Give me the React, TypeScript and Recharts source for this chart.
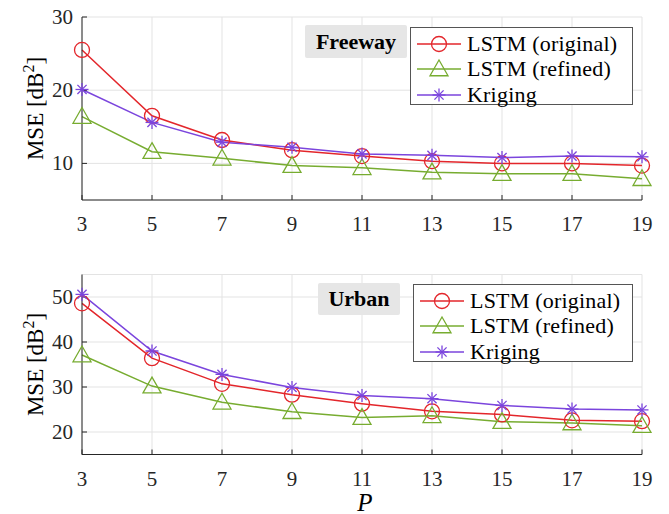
import {
  CartesianGrid,
  Legend,
  Line,
  LineChart,
  XAxis,
  YAxis,
} from "recharts";

const pValues = [3, 5, 7, 9, 11, 13, 15, 17, 19];

const freewayOriginal = [25.5, 16.5, 13.2, 11.8, 11.0, 10.3, 10.0, 10.0, 9.7];
const freewayRefined = [16.4, 11.6, 10.7, 9.7, 9.4, 8.8, 8.6, 8.6, 7.9];
const freewayKriging = [20.1, 15.6, 12.9, 12.2, 11.3, 11.1, 10.8, 11.0, 10.9];

const urbanOriginal = [48.6, 36.4, 30.7, 28.3, 26.3, 24.6, 23.9, 22.6, 22.4];
const urbanRefined = [37.1, 30.2, 26.6, 24.5, 23.2, 23.6, 22.3, 22.0, 21.4];
const urbanKriging = [50.6, 38.0, 32.8, 29.9, 28.1, 27.4, 25.9, 25.1, 24.9];

const freewayTicks = [10, 20, 30];
const urbanTicks = [20, 30, 40, 50];

const RED = "#e3262b";
const GREEN = "#77ac30";
const PURPLE = "#7b45dd";
const AXIS = "#262626";
const FONT = "Liberation Serif";

const series = [
  { key: "original", name: "LSTM (original)", color: RED, shape: "circle" },
  { key: "refined", name: "LSTM (refined)", color: GREEN, shape: "triangle" },
  { key: "kriging", name: "Kriging", color: PURPLE, shape: "asterisk" },
];

function toRows(original: number[], refined: number[], kriging: number[]) {
  return pValues.map((p, i) => ({
    p,
    original: original[i],
    refined: refined[i],
    kriging: kriging[i],
  }));
}

function Marker({ shape, cx, cy, color }: any) {
  if (shape === "circle") {
    return <circle cx={cx} cy={cy} r={7.5} fill="none" stroke={color} strokeWidth={1.3} />;
  }
  if (shape === "triangle") {
    const s = 9;
    return (
      <polygon
        points={`${cx},${cy - s} ${cx + s},${cy + s * 0.75} ${cx - s},${cy + s * 0.75}`}
        fill="none"
        stroke={color}
        strokeWidth={1.3}
      />
    );
  }
  const r = 6.5;
  const d = r * 0.707;
  return (
    <g stroke={color} strokeWidth={1.3}>
      <line x1={cx - r} y1={cy} x2={cx + r} y2={cy} />
      <line x1={cx} y1={cy - r} x2={cx} y2={cy + r} />
      <line x1={cx - d} y1={cy - d} x2={cx + d} y2={cy + d} />
      <line x1={cx - d} y1={cy + d} x2={cx + d} y2={cy - d} />
    </g>
  );
}

function XTick({ x, y, payload }: any) {
  return (
    <text x={x} y={y + 31} textAnchor="middle" style={{ fontFamily: FONT, fontSize: 21, fill: AXIS }}>
      {payload.value}
    </text>
  );
}

function YTick({ x, y, payload }: any) {
  return (
    <text x={x} y={y + 7} textAnchor="end" style={{ fontFamily: FONT, fontSize: 21, fill: AXIS }}>
      {payload.value}
    </text>
  );
}

function Panel({ title, data, domain, ticks, height, margin, xHeight, titleBox, legendBox, showP }: any) {
  const renderLegend = () => (
    <div style={{ position: "relative", fontFamily: FONT }}>
      <div
        style={{
          position: "absolute",
          left: titleBox.x,
          top: titleBox.y,
          width: titleBox.w,
          height: titleBox.h,
          background: "#e6e6e6",
          borderRadius: 2,
          fontFamily: FONT,
          fontWeight: "bold",
          fontSize: 22,
          color: "#000",
          display: "flex",
          alignItems: "center",
          justifyContent: "center",
        }}
      >
        {title}
      </div>
      <div
        style={{
          position: "absolute",
          left: legendBox.x,
          top: legendBox.y,
          width: legendBox.w,
          height: legendBox.h,
          background: "#fff",
          border: "1px solid #555",
          boxSizing: "border-box",
          paddingTop: 3,
        }}
      >
        {series.map((s) => (
          <div key={s.key} style={{ display: "flex", alignItems: "center", height: 25.5 }}>
            <svg width={54} height={24} style={{ flex: "none" }}>
              <line x1={6} y1={12} x2={50} y2={12} stroke={s.color} strokeWidth={1.5} />
              <Marker shape={s.shape} cx={28} cy={12} color={s.color} />
            </svg>
            <span
              style={{
                fontFamily: FONT,
                fontSize: 22,
                letterSpacing: 0.2,
                color: "#000",
                whiteSpace: "nowrap",
                marginLeft: 2,
              }}
            >
              {s.name}
            </span>
          </div>
        ))}
      </div>
    </div>
  );

  return (
    <LineChart width={669} height={height} data={data} margin={margin}>
      <CartesianGrid stroke="#e3e3e3" />
      <XAxis
        dataKey="p"
        type="number"
        domain={[3, 19]}
        ticks={pValues}
        height={xHeight}
        stroke={AXIS}
        tickSize={-5}
        tickMargin={5}
        tick={<XTick />}
        label={
          showP
            ? {
                content: ({ viewBox }: any) => (
                  <text
                    x={viewBox.x + viewBox.width / 2 + 3}
                    y={viewBox.y + 56}
                    textAnchor="middle"
                    style={{ fontFamily: FONT, fontStyle: "italic", fontSize: 25, fill: "#000" }}
                  >
                    P
                  </text>
                ),
              }
            : undefined
        }
      />
      <XAxis
        xAxisId="top"
        dataKey="p"
        type="number"
        orientation="top"
        domain={[3, 19]}
        ticks={pValues}
        height={0}
        stroke={AXIS}
        tickSize={-5}
        tick={false}
      />
      <YAxis
        type="number"
        domain={domain}
        ticks={ticks}
        width={72}
        stroke={AXIS}
        tickSize={-5}
        tickMargin={14}
        allowDataOverflow
        tick={<YTick />}
        label={{
          content: ({ viewBox }: any) => {
            const x = 43;
            const y = viewBox.y + viewBox.height / 2;
            return (
              <text
                x={x}
                y={y}
                transform={`rotate(-90 ${x} ${y})`}
                textAnchor="middle"
                style={{ fontFamily: FONT, fontSize: 23, fill: "#000" }}
              >
                <tspan>MSE [dB</tspan>
                <tspan dy={-9} style={{ fontSize: 16 }}>2</tspan>
                <tspan dy={9}>]</tspan>
              </text>
            );
          },
        }}
      />
      <YAxis
        yAxisId="right"
        orientation="right"
        type="number"
        domain={domain}
        ticks={ticks}
        width={0}
        stroke={AXIS}
        tickSize={-5}
        tick={false}
      />
      <Legend
        layout="vertical"
        align="center"
        verticalAlign="middle"
        wrapperStyle={{ left: 0, top: 0, width: 0, height: 0 }}
        content={renderLegend}
      />
      {series.map((s) => (
        <Line
          key={s.key}
          type="linear"
          dataKey={s.key}
          name={s.name}
          stroke={s.color}
          strokeWidth={1.5}
          isAnimationActive={false}
          activeDot={false}
          dot={(props: any) => (
            <Marker key={`${s.key}-${props.index}`} shape={s.shape} cx={props.cx} cy={props.cy} color={s.color} />
          )}
        />
      ))}
    </LineChart>
  );
}

export default function App() {
  const freeway = toRows(freewayOriginal, freewayRefined, freewayKriging);
  const urban = toRows(urbanOriginal, urbanRefined, urbanKriging);

  return (
    <div style={{ position: "absolute", left: 0, top: 0, width: 669, height: 514, background: "#fff" }}>
      <Panel
        title="Freeway"
        data={freeway}
        domain={[5, 30]}
        ticks={freewayTicks}
        height={240}
        margin={{ top: 17, right: 27, left: 10, bottom: 10 }}
        xHeight={30}
        titleBox={{ x: 305, y: 25, w: 102, h: 33 }}
        legendBox={{ x: 410, y: 27, w: 223, h: 78 }}
      />
      <Panel
        title="Urban"
        data={urban}
        domain={[15, 55]}
        ticks={urbanTicks}
        height={274}
        margin={{ top: 34.5, right: 27, left: 10, bottom: 9.5 }}
        xHeight={50}
        titleBox={{ x: 318, y: 43, w: 82, h: 32 }}
        legendBox={{ x: 413, y: 44, w: 220, h: 78 }}
        showP
      />
    </div>
  );
}
